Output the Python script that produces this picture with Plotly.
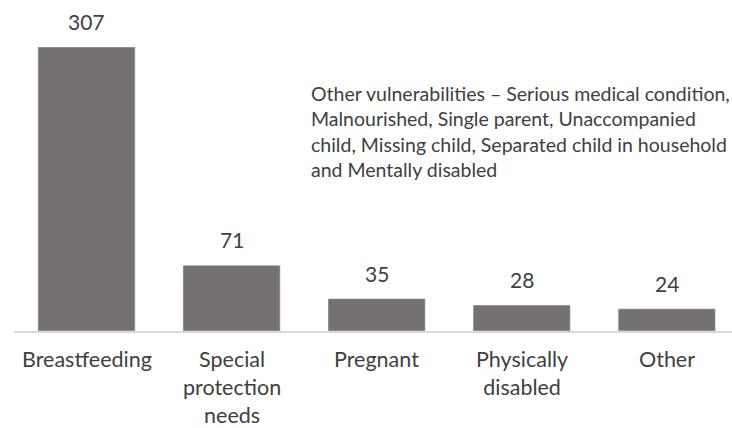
import plotly.graph_objects as go

categories = ["Breastfeeding", "Special protection needs", "Pregnant", "Physically disabled", "Other"]
tick_labels = ["Breastfeeding", "Special<br>protection<br>needs", "Pregnant", "Physically<br>disabled", "Other"]
values = [307, 71, 35, 28, 24]
note = ("Other vulnerabilities \u2013 Serious medical condition,<br>"
        "Malnourished, Single parent, Unaccompanied<br>"
        "child, Missing child, Separated child in household<br>"
        "and Mentally disabled")

FONT = "Lato"
TXT = "#404040"
BAR = "#767171"

fig = go.Figure()
fig.add_trace(go.Bar(x=list(range(len(categories))), y=values, marker_color=BAR,
                     width=0.67, hoverinfo="skip"))

ann = []
for i, v in enumerate(values):
    ann.append(dict(x=i, y=v, text=str(v), showarrow=False, yanchor="bottom",
                    yshift=11, font=dict(family=FONT, size=21, color=TXT)))
for i, t in enumerate(tick_labels):
    ann.append(dict(x=i, y=0, text=t, showarrow=False, yanchor="top", yshift=-14,
                    borderpad=0, font=dict(family=FONT, size=21.5, color=TXT), align="center"))
ann.append(dict(xref="paper", yref="paper", x=(309 - 14) / 718, y=1 - 80 / 331,
                xanchor="left", yanchor="top", text=note, showarrow=False, align="left",
                font=dict(family=FONT, size=19.5, color=TXT)))

fig.update_layout(
    width=732, height=428,
    margin=dict(l=14, r=0, t=0, b=97),
    paper_bgcolor="white", plot_bgcolor="white",
    showlegend=False,
    xaxis=dict(range=[-0.5, 4.45], showticklabels=False, showgrid=False, zeroline=False,
               showline=True, linecolor="#d9d9d9", linewidth=1.5, ticks=""),
    yaxis=dict(range=[0, 331 / 0.925], visible=False),
    annotations=ann,
)
fig.write_html("out.html", config={"displayModeBar": False},
               post_script="document.body.style.margin='0';document.body.style.overflow='hidden';")
